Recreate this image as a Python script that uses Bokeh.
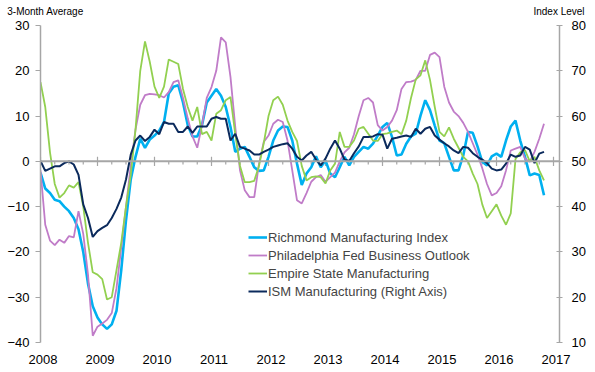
from bokeh.plotting import figure
from bokeh.models import (Range1d, LinearAxis, FixedTicker, Span,
                          Legend, LegendItem)
from bokeh.embed import file_html
from bokeh.resources import INLINE

# ---------------- data ----------------
years = [2008, 2009, 2010, 2011, 2012, 2013, 2014, 2015, 2016, 2017]
left_ticks = [-40, -30, -20, -10, 0, 10, 20, 30]
right_ticks = [10, 20, 30, 40, 50, 60, 70, 80]
start_year = 2008
left_title = "3-Month Average"
right_title = "Index Level"

richmond = [
    -2.5, -6, -7, -8.5, -8.8, -10, -11, -12.5, -15, -20, -27, -32,
    -34.5, -36, -37, -36, -33, -24, -13, -4, 1, 5, 3, 4.8,
    5.7, 6.8, 8.7, 15, 16.5, 16.8, 13, 8, 5.5, 5.5, 8, 13,
    14.5, 16, 14.5, 12, 7.6, 2.1, 2.8, 3.2, 1.0, -1.3, -2.1, -2.0,
    1.0, 4.6, 6.8, 7.7, 7.6, 4.6, -0.5, -5.2, -2.7, -1.3, 1.1, -1.3,
    0.2, -2.7, -3.5, -1.3, 1.0, -0.9, 1.0, 2.1, 3.2, 2.8, 3.9, 5.7,
    7.6, 8.5, 5.4, 1.3, 1.5, 3.9, 5.5, 6.1, 10.1, 13.5, 11.3, 7.9,
    4.6, 4.0, 1.0, -2.0, -2.0, 1.3, 6.5, 6.3, 3.3, -0.1, -0.9, 1.1,
    1.7, 1.0, 4.6, 7.7, 9.0, 4.6, 1.0, -3.1, -2.7, -3.0, -7.5]

philly = [
    -2, -14, -17.5, -18.5, -17.3, -18, -16.5, -16.8, -11, -16, -25, -38.5,
    -36.5, -35.8, -35, -33.5, -28, -19, -10, -1, 7, 12.5, 14.6, 14.9,
    14.8, 14.6, 14.1, 15.3, 17.5, 17.9, 14, 9.5, 5.5, 3, 8, 14,
    16.4, 20, 27.4, 26.3, 18.6, 7.6, -2, -6.4, -7.9, -7.9, -0.5, 4.3,
    5.7, 8.3, 9.2, 8.7, 4.6, -2, -8.6, -9.3, -7, -4.5, -3.5, -3,
    -4.5, -3.5, -2.5, 0, 2, 3, 6, 10, 13.5, 14, 13, 8,
    6.8, 7.6, 9, 11.3, 16, 17.5, 17.6, 18, 20, 20, 23.5, 24,
    23, 16.5, 13, 11, 10, 8.5, 6.5, 4, 1.5, -1.5, -5, -7.5,
    -7, -5.5, -2, 2.4, 2.8, 3.2, 0.6, -0.1, 2.1, 5, 8.3]

empire = [
    17.5, 12, 2, -5, -8, -7, -5.3, -5.8, -4.6, -10, -18, -24.5,
    -25, -26, -30.5, -30, -24, -18, -10, -3, 7, 20, 26.5, 22,
    16.5, 14, 16.5, 22.5, 22, 21.5, 16, 12, 9, 12, 6, 6.5,
    4.6, 10.5, 11.3, 13.5, 14.2, 6, -1, -4.6, -4.6, -4.3, -1, 4,
    10, 13.5, 14.3, 12.5, 9, 6.5, 4.5, -1, -4.2, -3.5, -3.3, -3.5,
    -4.9, -2, -0.5, 6.5, 3.2, 3.2, 4.6, 7.2, 7.6, 6.1, 4.6, 4.5,
    6, 6.2, 6.5, 6.8, 6.0, 9, 14, 18.1, 19, 22.3, 18, 12,
    6.5, 5.5, 7.5, 5, 3, 1, 0, -2.7, -5, -9.5, -12.5, -11,
    -9.5, -12, -14, -11.5, 0.5, 2, 2.5, 0, 1, -2, -4.2]

ism = [
    50.1, 47.9, 48.4, 48.9, 48.9, 49.6, 50.0, 49.3, 47.0, 40.5, 37.5, 33.3,
    34.6, 35.3, 35.9, 37.5, 39.5, 42.0, 46.0, 51.5, 54.6, 55.7, 54.5, 55.4,
    57.0, 56.0, 58.7, 58.3, 58.3, 56.5, 56.5, 57.7, 56.3, 57.7, 57.7, 57.7,
    59.4, 59.8, 59.4, 59.4, 54.6, 56.1, 53.2, 52.8, 52.4, 51.5, 51.5, 52.1,
    52.6, 53.2, 53.5, 53.8, 54.0, 52.8, 51.0, 50.2, 51.3, 52.1, 50.4, 49.1,
    50.6, 52.8, 54.6, 52.8, 50.4, 50.1, 51.8, 53.3, 55.4, 55.4, 55.5, 56.0,
    55.9, 52.8, 55.0, 55.2, 55.5, 55.7, 55.4, 57.2, 56.1, 57.2, 57.6, 55.7,
    54.8, 54.0, 53.3, 52.4, 51.8, 53.2, 53.0, 51.8, 51.0, 50.4, 49.6, 48.4,
    48.0, 48.2, 49.5, 51.5, 51.0, 51.3, 53.2, 52.6, 49.6, 51.7, 52.1]

series_names = ["Richmond Manufacturing Index",
                "Philadelphia Fed Business Outlook",
                "Empire State Manufacturing",
                "ISM Manufacturing (Right Axis)"]

# ---------------- style ----------------
FONT = "Liberation Sans"
GRAY = "#A6A6A6"
C_RICH = "#00B0F0"
C_PHIL = "#C07CC8"
C_EMP = "#92D050"
C_ISM = "#0B2A5C"

months = [start_year + i / 12 for i in range(len(richmond))]

PX_PER_YEAR = 57.0
FRAME_W = 519
x_end = years[0] + FRAME_W / PX_PER_YEAR
lbl_shift = 2.5 / PX_PER_YEAR

p = figure(width=595, height=372, output_backend="svg", toolbar_location=None,
           x_range=Range1d(years[0], x_end), y_range=Range1d(-40, 30),
           min_border_left=40, min_border_right=36, min_border_top=25,
           min_border_bottom=30)
p.extra_y_ranges = {"right": Range1d(10, 80)}
# half-pixel header range spanning the plot frame, used to place the two axis titles
p.extra_x_ranges = {"lbl": Range1d(years[0] - lbl_shift, x_end - lbl_shift),
                    "hdr": Range1d(0, 2 * FRAME_W)}
p.xgrid.visible = False
p.ygrid.visible = False
p.outline_line_color = None
p.background_fill_color = "white"
p.xaxis.visible = False

# header texts ("3-Month Average" at left, "Index Level" at right)
hdr_ticks = [10, 2 * FRAME_W - 1]
ha = LinearAxis(x_range_name="hdr", ticker=FixedTicker(ticks=hdr_ticks),
                major_label_overrides={hdr_ticks[0]: left_title,
                                       hdr_ticks[1]: right_title})
ha.axis_line_color = None
ha.major_tick_line_color = None
ha.minor_tick_line_color = None
ha.major_tick_in = 0
ha.major_tick_out = 0
ha.major_label_standoff = 9
ha.major_label_text_font = FONT
ha.major_label_text_font_size = "10px"
ha.major_label_text_color = "black"
p.add_layout(ha, "above")

# bottom axis: year labels only
xa = LinearAxis(x_range_name="lbl", ticker=FixedTicker(ticks=years))
xa.axis_line_color = None
xa.major_tick_line_color = None
xa.minor_tick_line_color = None
xa.major_label_standoff = 6
xa.major_label_text_font = FONT
xa.major_label_text_font_size = "13px"
xa.major_label_text_color = "black"
p.add_layout(xa, "below")

# left axis
ya = p.yaxis[0]
ya.ticker = FixedTicker(ticks=left_ticks)
ya.axis_line_color = GRAY
ya.axis_line_width = 1.5
ya.major_tick_line_color = GRAY
ya.major_tick_out = 5
ya.major_tick_in = 0
ya.minor_tick_line_color = None
ya.major_label_standoff = 6
ya.major_label_text_font = FONT
ya.major_label_text_font_size = "13px"
ya.major_label_text_color = "black"

# right axis
ra = LinearAxis(y_range_name="right", ticker=FixedTicker(ticks=right_ticks))
ra.axis_line_color = GRAY
ra.axis_line_width = 1.5
ra.major_tick_line_color = GRAY
ra.major_tick_out = 3
ra.major_tick_in = 3
ra.minor_tick_line_color = None
ra.major_label_standoff = 9
ra.major_label_text_font = FONT
ra.major_label_text_font_size = "13px"
ra.major_label_text_color = "black"
p.add_layout(ra, "right")

# zero line with year / quarter tick marks
p.add_layout(Span(location=0, dimension="width", line_color=GRAY, line_width=2))
quarters = [y + q / 4 for y in years[:-1] for q in (1, 2, 3)]
p.segment(x0=years, x1=years, y0=[-1.0] * len(years), y1=[1.0] * len(years),
          line_color=GRAY, line_width=1.2)
p.segment(x0=quarters, x1=quarters, y0=[-0.7] * len(quarters), y1=[0] * len(quarters),
          line_color=GRAY, line_width=1.2)

# series
r1 = p.line(months, richmond, line_color=C_RICH, line_width=2.6)
r2 = p.line(months, philly, line_color=C_PHIL, line_width=1.8)
r3 = p.line(months, empire, line_color=C_EMP, line_width=1.8)
r4 = p.line(months, ism, line_color=C_ISM, line_width=2.0, y_range_name="right")

legend = Legend(items=[LegendItem(label=n, renderers=[r]) for n, r in
                       zip(series_names, [r1, r2, r3, r4])],
                location=(208, 43), padding=0, margin=0, spacing=2,
                glyph_width=19, glyph_height=16, label_height=16,
                label_standoff=1, label_text_font=FONT,
                label_text_font_size="13px", border_line_color=None,
                background_fill_alpha=0)
p.add_layout(legend)

open("out.html", "w").write(file_html(p, INLINE))
